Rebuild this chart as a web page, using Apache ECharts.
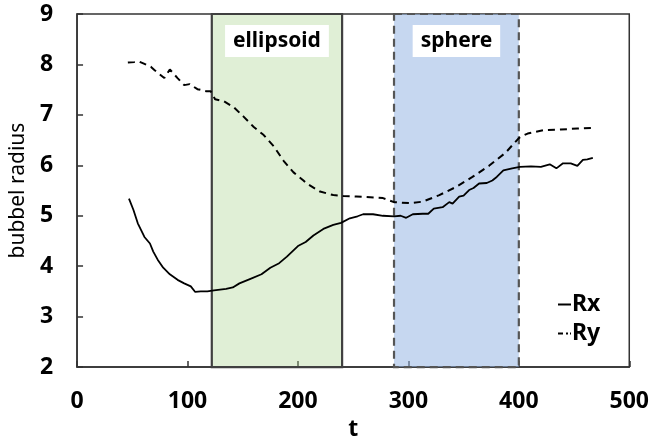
<!DOCTYPE html>
<html>
<head>
<meta charset="utf-8">
<script src="https://cdn.jsdelivr.net/npm/echarts@6/dist/echarts.min.js"></script>
<style>
  html, body { margin: 0; padding: 0; background: #fff; }
  #chart { width: 652px; height: 446px; }
</style>
</head>
<body>
<div id="chart"></div>
<script>
// Rx (solid)
var tRx = [47, 51, 55, 61, 66, 69, 73, 78, 84, 91, 97, 103, 107, 112, 118, 124, 135, 141, 147, 157,
  167, 175, 183, 190, 200, 207, 214, 223, 232, 239, 247, 254, 259, 268, 277, 287, 293, 298, 304, 313,
  318, 323, 331, 337, 340, 346, 350, 355, 359, 364, 371, 376, 380, 386, 394, 401, 411, 420, 428, 434,
  440, 447, 453, 458, 462, 467];
var rx = [5.34, 5.12, 4.85, 4.58, 4.45, 4.29, 4.13, 3.97, 3.84, 3.73, 3.66, 3.60, 3.49, 3.50, 3.50, 3.52, 3.55, 3.58, 3.66, 3.75,
  3.84, 3.97, 4.06, 4.19, 4.40, 4.48, 4.61, 4.74, 4.82, 4.86, 4.95, 4.99, 5.03, 5.03, 5.00, 4.99, 5.00, 4.96, 5.03, 5.04,
  5.04, 5.14, 5.17, 5.27, 5.24, 5.38, 5.40, 5.51, 5.55, 5.64, 5.65, 5.70, 5.77, 5.90, 5.94, 5.97, 5.98, 5.97, 6.02, 5.94,
  6.04, 6.04, 5.99, 6.11, 6.12, 6.15];

// Ry (dashed)
var tRy = [46, 52, 56, 60, 67, 70, 79, 84, 91, 97, 102, 109, 117, 121, 125, 133, 142, 151, 160, 169,
  178, 187, 196, 205, 208, 220, 232, 241, 253, 262, 277, 287, 301, 313, 328, 343, 358, 373, 388, 400,
  403, 408, 423, 438, 453, 467];
var ry = [8.04, 8.05, 8.06, 8.02, 7.95, 7.89, 7.73, 7.90, 7.73, 7.59, 7.61, 7.51, 7.47, 7.47, 7.31, 7.27, 7.15, 6.96, 6.76, 6.60,
  6.38, 6.09, 5.86, 5.70, 5.64, 5.48, 5.41, 5.39, 5.38, 5.37, 5.35, 5.27, 5.25, 5.28, 5.41, 5.57, 5.77, 5.99, 6.25, 6.54,
  6.58, 6.63, 6.70, 6.71, 6.73, 6.74];

// shaded regions
var regionNames = ["ellipsoid", "sphere"];
var regionStart = [122, 287];
var regionEnd = [240, 400];

var xTicks = [0, 100, 200, 300, 400, 500];
var yTicks = [2, 3, 4, 5, 6, 7, 8, 9];

function pairs(xs, ys) {
  return xs.map(function (x, i) { return [x, ys[i]]; });
}

var chart = echarts.init(document.getElementById("chart"));
var font = "Noto Sans";

var option = {
  animation: false,
  textStyle: { fontFamily: font },
  grid: {
    left: 75,
    right: 20,
    top: 14,
    bottom: 68,
    show: true,
    borderColor: "#333",
    borderWidth: 1.5
  },
  legend: {
    orient: "vertical",
    left: 553,
    top: 288,
    itemWidth: 13,
    itemHeight: 2,
    itemGap: 6,
    selectedMode: false,
    symbolKeepAspect: true,
    data: [
      { name: "Rx", icon: "path://M0,0h13v2h-13z" },
      { name: "Ry", icon: "path://M0,0h5v2h-5z M8,0h2v2h-2z M12,0h1v2h-1z" }
    ],
    textStyle: { fontFamily: font, fontSize: 23, fontWeight: "bold", color: "#000", padding: [0, 0, 0, -4] }
  },
  xAxis: {
    type: "value",
    min: xTicks[0],
    max: xTicks[xTicks.length - 1],
    interval: 100,
    name: "t",
    nameLocation: "middle",
    nameGap: 44,
    nameTextStyle: { fontFamily: font, fontSize: 23, fontWeight: "bold", color: "#000" },
    axisLine: { lineStyle: { color: "#333", width: 1.5 } },
    axisTick: { inside: true, length: 6, lineStyle: { color: "#333", width: 1.5 } },
    axisLabel: { margin: 23, fontFamily: font, fontSize: 23, fontWeight: "bold", color: "#000" },
    splitLine: { show: false }
  },
  yAxis: {
    type: "value",
    min: yTicks[0],
    max: yTicks[yTicks.length - 1],
    interval: 1,
    name: "bubbel radius",
    nameLocation: "middle",
    nameGap: 48,
    nameTextStyle: { fontFamily: font, fontSize: 21, color: "#000" },
    axisLine: { lineStyle: { color: "#333", width: 1.5 } },
    axisTick: { inside: true, length: 6, lineStyle: { color: "#333", width: 1.5 } },
    axisLabel: { margin: 24, fontFamily: font, fontSize: 23, fontWeight: "bold", color: "#000" },
    splitLine: { show: false }
  },
  series: [
    {
      name: "Rx",
      type: "line",
      z: 2,
      symbol: "none",
      data: pairs(tRx, rx),
      lineStyle: { color: "#000", width: 1.8 },
      itemStyle: { color: "#000" }
    },
    {
      name: "Ry",
      type: "line",
      z: 2,
      symbol: "none",
      data: pairs(tRy, ry),
      lineStyle: { color: "#000", width: 2, type: [7, 5] },
      itemStyle: { color: "#000" }
    },
    {
      // overlay boxes drawn above the curves
      name: "regions",
      type: "line",
      z: 5,
      data: [],
      markArea: {
        silent: true,
        label: {
          show: true,
          position: "insideTop",
          distance: 12,
          fontFamily: font,
          fontSize: 21,
          fontWeight: "bold",
          color: "#000",
          backgroundColor: "#fff",
          padding: [6, 8, 5, 8]
        },
        data: [
          [
            {
              name: regionNames[0],
              xAxis: regionStart[0],
              yAxis: 9,
              itemStyle: { color: "rgba(170,210,140,0.36)", borderColor: "#404040", borderWidth: 2.2 }
            },
            { xAxis: regionEnd[0], yAxis: 2 }
          ],
          [
            {
              name: regionNames[1],
              xAxis: regionStart[1],
              yAxis: 9,
              itemStyle: {
                color: "rgba(146,179,226,0.52)",
                borderColor: "#555",
                borderWidth: 2.2,
                borderType: [8, 5]
              }
            },
            { xAxis: regionEnd[1], yAxis: 2 }
          ]
        ]
      }
    }
  ]
};

chart.setOption(option);
</script>
</body>
</html>
